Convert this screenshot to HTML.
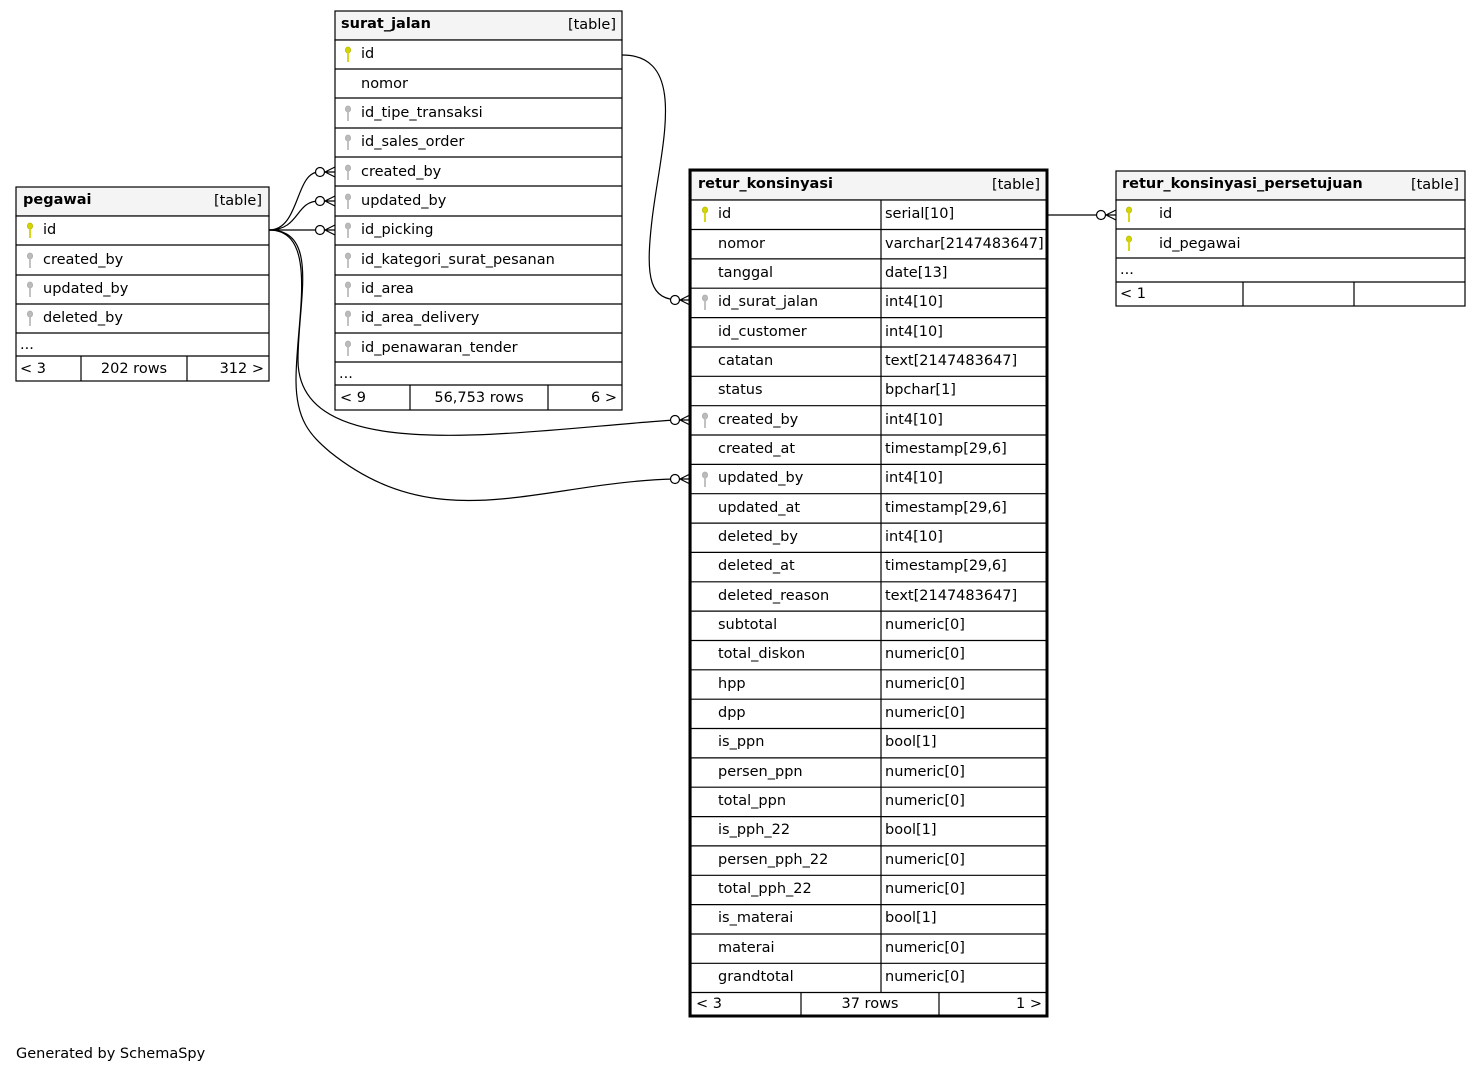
<!DOCTYPE html>
<html><head><meta charset="utf-8"><style>
html,body{margin:0;padding:0;background:#fff;}
svg{display:block;}
text{font-family:"DejaVu Sans","Liberation Sans",sans-serif;font-size:14.5px;fill:#000;}
.b{font-weight:bold;}
</style></head><body>
<svg width="1481" height="1073" viewBox="0 0 1481 1073" xmlns="http://www.w3.org/2000/svg">
<defs>
<g id="pk"><ellipse cx="0" cy="-3" rx="2.6" ry="3" fill="#d4d400" stroke="#b8b800" stroke-width="0.8"/><rect x="-0.9" y="-1" width="1.8" height="10" fill="#d4d400"/></g>
<g id="fk"><ellipse cx="0" cy="-3" rx="2.6" ry="3" fill="#bbb" stroke="#aaa" stroke-width="0.8"/><rect x="-0.9" y="-1" width="1.8" height="10" fill="#bbb"/></g>
<g id="crow" fill="none" stroke="#000" stroke-width="1.2"><circle cx="-15" cy="0" r="4.5" fill="#fff"/><path d="M-10,0 L0,-5 M-10,0 L0,0 M-10,0 L0,5"/></g>
</defs>

<g fill="none" stroke="#000" stroke-width="1.2">
<path d="M622,55 C690,55 660,150 652,220 C645,280 650,300 680,300"/>
<path d="M269,230 C300,230 295,172 319,172"/>
<path d="M269,230 C300,230 295,201 319,201"/>
<path d="M269,230 L319,230"/>
<path d="M269,230 C320,230 298,300 298,360 C298,470 520,430 675,420"/>
<path d="M269,230 C320,230 296,320 296,380 C296,420 310,435 330,452 C440,540 540,482 675,479"/>
<path d="M1047,215 L1101,215"/>
</g>
<use href="#crow" x="335" y="172"/>
<use href="#crow" x="335" y="201"/>
<use href="#crow" x="335" y="230"/>
<use href="#crow" x="690" y="300"/>
<use href="#crow" x="690" y="420"/>
<use href="#crow" x="690" y="479"/>
<use href="#crow" x="1116" y="215"/>

<g stroke="#000" stroke-width="1.2">
<rect x="16" y="187" width="253" height="29" fill="#f4f4f4"/>
<rect x="16" y="216" width="253" height="165" fill="#fff"/>
<path d="M16,245H269M16,275H269M16,304H269M16,333H269M16,356H269M81,356V381M187,356V381"/>
</g>
<text x="23" y="204" class="b">pegawai</text><text x="262" y="205" text-anchor="end">[table]</text>
<use href="#pk" x="30" y="229"/><text x="43" y="234">id</text>
<use href="#fk" x="30" y="259"/><text x="43" y="264">created_by</text>
<use href="#fk" x="30" y="288"/><text x="43" y="293">updated_by</text>
<use href="#fk" x="30" y="317"/><text x="43" y="322">deleted_by</text>
<text x="20" y="349">...</text>
<text x="20" y="373">&lt; 3</text><text x="134" y="373" text-anchor="middle">202 rows</text><text x="264" y="373" text-anchor="end">312 &gt;</text>

<g stroke="#000" stroke-width="1.2">
<rect x="335" y="11" width="287" height="29" fill="#f4f4f4"/>
<rect x="335" y="40" width="287" height="370" fill="#fff"/>
<path d="M335,69H622M335,98H622M335,128H622M335,157H622M335,186H622M335,216H622M335,245H622M335,275H622M335,304H622M335,333H622M335,362H622M335,385H622M410,385V410M548,385V410"/>
</g>
<text x="341" y="28" class="b">surat_jalan</text><text x="616" y="29" text-anchor="end">[table]</text>
<use href="#pk" x="348" y="53"/><text x="361" y="58">id</text>
<text x="361" y="88">nomor</text>
<use href="#fk" x="348" y="112"/><text x="361" y="117">id_tipe_transaksi</text>
<use href="#fk" x="348" y="141"/><text x="361" y="146">id_sales_order</text>
<use href="#fk" x="348" y="171"/><text x="361" y="176">created_by</text>
<use href="#fk" x="348" y="200"/><text x="361" y="205">updated_by</text>
<use href="#fk" x="348" y="229"/><text x="361" y="234">id_picking</text>
<use href="#fk" x="348" y="259"/><text x="361" y="264">id_kategori_surat_pesanan</text>
<use href="#fk" x="348" y="288"/><text x="361" y="293">id_area</text>
<use href="#fk" x="348" y="317"/><text x="361" y="322">id_area_delivery</text>
<use href="#fk" x="348" y="347"/><text x="361" y="352">id_penawaran_tender</text>
<text x="339" y="378">...</text>
<text x="340" y="402">&lt; 9</text><text x="479" y="402" text-anchor="middle">56,753 rows</text><text x="617" y="402" text-anchor="end">6 &gt;</text>

<g stroke="#000" stroke-width="1.2">
<rect x="691" y="171" width="356" height="29" fill="#f4f4f4"/>
<rect x="691" y="200" width="356" height="816" fill="#fff"/>
<path d="M881,200V992M801,992V1016M939,992V1016
M691,229.5H1047M691,258.9H1047M691,288.2H1047M691,317.6H1047M691,347H1047M691,376.3H1047M691,405.7H1047M691,435H1047M691,464.4H1047M691,493.7H1047M691,523.1H1047M691,552.4H1047M691,581.8H1047M691,611.1H1047M691,640.5H1047M691,669.8H1047M691,699.2H1047M691,728.5H1047M691,757.9H1047M691,787.2H1047M691,816.6H1047M691,845.9H1047M691,875.3H1047M691,904.6H1047M691,934H1047M691,963.3H1047M691,992.5H1047"/>
</g>
<rect x="690" y="170" width="357" height="846" fill="none" stroke="#000" stroke-width="3"/>
<text x="698" y="188" class="b">retur_konsinyasi</text><text x="1040" y="189" text-anchor="end">[table]</text>
<use href="#pk" x="705" y="213"/>
<use href="#fk" x="705" y="301"/>
<use href="#fk" x="705" y="419"/>
<use href="#fk" x="705" y="478"/>
<g>
<text x="718" y="218">id</text><text x="885" y="218">serial[10]</text>
<text x="718" y="248">nomor</text><text x="885" y="248">varchar[2147483647]</text>
<text x="718" y="277">tanggal</text><text x="885" y="277">date[13]</text>
<text x="718" y="306">id_surat_jalan</text><text x="885" y="306">int4[10]</text>
<text x="718" y="336">id_customer</text><text x="885" y="336">int4[10]</text>
<text x="718" y="365">catatan</text><text x="885" y="365">text[2147483647]</text>
<text x="718" y="394">status</text><text x="885" y="394">bpchar[1]</text>
<text x="718" y="424">created_by</text><text x="885" y="424">int4[10]</text>
<text x="718" y="453">created_at</text><text x="885" y="453">timestamp[29,6]</text>
<text x="718" y="482">updated_by</text><text x="885" y="482">int4[10]</text>
<text x="718" y="512">updated_at</text><text x="885" y="512">timestamp[29,6]</text>
<text x="718" y="541">deleted_by</text><text x="885" y="541">int4[10]</text>
<text x="718" y="570">deleted_at</text><text x="885" y="570">timestamp[29,6]</text>
<text x="718" y="600">deleted_reason</text><text x="885" y="600">text[2147483647]</text>
<text x="718" y="629">subtotal</text><text x="885" y="629">numeric[0]</text>
<text x="718" y="658">total_diskon</text><text x="885" y="658">numeric[0]</text>
<text x="718" y="688">hpp</text><text x="885" y="688">numeric[0]</text>
<text x="718" y="717">dpp</text><text x="885" y="717">numeric[0]</text>
<text x="718" y="746">is_ppn</text><text x="885" y="746">bool[1]</text>
<text x="718" y="776">persen_ppn</text><text x="885" y="776">numeric[0]</text>
<text x="718" y="805">total_ppn</text><text x="885" y="805">numeric[0]</text>
<text x="718" y="834">is_pph_22</text><text x="885" y="834">bool[1]</text>
<text x="718" y="864">persen_pph_22</text><text x="885" y="864">numeric[0]</text>
<text x="718" y="893">total_pph_22</text><text x="885" y="893">numeric[0]</text>
<text x="718" y="922">is_materai</text><text x="885" y="922">bool[1]</text>
<text x="718" y="952">materai</text><text x="885" y="952">numeric[0]</text>
<text x="718" y="981">grandtotal</text><text x="885" y="981">numeric[0]</text>
</g>
<text x="696" y="1008">&lt; 3</text><text x="870" y="1008" text-anchor="middle">37 rows</text><text x="1042" y="1008" text-anchor="end">1 &gt;</text>

<g stroke="#000" stroke-width="1.2">
<rect x="1116" y="171" width="349" height="29" fill="#f4f4f4"/>
<rect x="1116" y="200" width="349" height="106" fill="#fff"/>
<path d="M1116,229H1465M1116,258H1465M1116,282H1465M1243,282V306M1354,282V306"/>
</g>
<text x="1122" y="188" class="b">retur_konsinyasi_persetujuan</text><text x="1459" y="189" text-anchor="end">[table]</text>
<use href="#pk" x="1129" y="213"/><text x="1159" y="218">id</text>
<use href="#pk" x="1129" y="242"/><text x="1159" y="248">id_pegawai</text>
<text x="1120" y="274">...</text>
<text x="1120" y="298">&lt; 1</text>

<text x="16" y="1058">Generated by SchemaSpy</text>
</svg>
</body></html>
